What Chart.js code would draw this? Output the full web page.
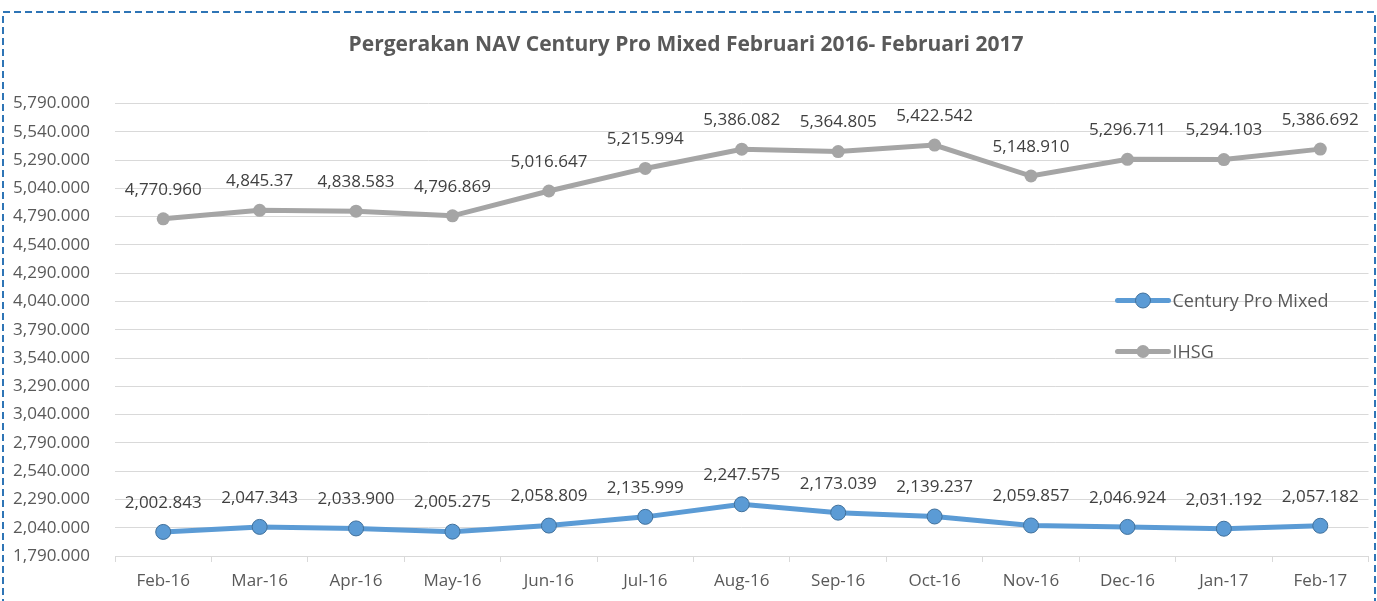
<!DOCTYPE html>
<html><head><meta charset="utf-8">
<script src="https://cdn.jsdelivr.net/npm/chart.js@4.4.0/dist/chart.umd.min.js"></script>
<style>
html,body{margin:0;padding:0;background:#fff;overflow:hidden}
#wrap{position:relative;width:1377px;height:601px}
canvas{position:absolute;left:0;top:0}
</style></head><body>
<div id="wrap"><canvas id="c" width="1377" height="601"></canvas></div>
<script>
const categories = ['Feb-16','Mar-16','Apr-16','May-16','Jun-16','Jul-16','Aug-16','Sep-16','Oct-16','Nov-16','Dec-16','Jan-17','Feb-17'];
const centuryValues = [2002.843, 2047.343, 2033.900, 2005.275, 2058.809, 2135.999, 2247.575, 2173.039, 2139.237, 2059.857, 2046.924, 2031.192, 2057.182];
const ihsgValues = [4770.960, 4845.37, 4838.583, 4796.869, 5016.647, 5215.994, 5386.082, 5364.805, 5422.542, 5148.910, 5296.711, 5294.103, 5386.692];
const centuryLabels = ['2,002.843','2,047.343','2,033.900','2,005.275','2,058.809','2,135.999','2,247.575','2,173.039','2,139.237','2,059.857','2,046.924','2,031.192','2,057.182'];
const ihsgLabels = ['4,770.960','4,845.37','4,838.583','4,796.869','5,016.647','5,215.994','5,386.082','5,364.805','5,422.542','5,148.910','5,296.711','5,294.103','5,386.692'];
const yTicks = [1790, 2040, 2290, 2540, 2790, 3040, 3290, 3540, 3790, 4040, 4290, 4540, 4790, 5040, 5290, 5540, 5790];
const seriesNames = ['Century Pro Mixed', 'IHSG'];
const titleText = 'Pergerakan NAV Century Pro Mixed Februari 2016- Februari 2017';

const FONT = "'Open Sans', sans-serif";
const allLabels = [centuryLabels, ihsgLabels];

const framePlugin = {
  id: 'frame',
  beforeDraw(chart) {
    const ctx = chart.ctx;
    ctx.save();
    ctx.fillStyle = '#fff';
    ctx.fillRect(0, 0, chart.width, chart.height);
    ctx.strokeStyle = '#2E75B6';
    ctx.lineWidth = 2;
    ctx.setLineDash([7, 4]);
    ctx.strokeRect(3, 12, chart.width - 5, chart.height + 40);
    ctx.restore();
  }
};

const dataLabelPlugin = {
  id: 'dataLabels',
  afterDatasetsDraw(chart) {
    const ctx = chart.ctx;
    ctx.save();
    ctx.font = "17px " + FONT;
    ctx.fillStyle = '#404040';
    ctx.textAlign = 'center';
    ctx.textBaseline = 'middle';
    chart.data.datasets.forEach((ds, i) => {
      const meta = chart.getDatasetMeta(i);
      meta.data.forEach((pt, j) => {
        ctx.fillText(allLabels[i][j], pt.x, pt.y - 29);
      });
    });
    ctx.restore();
  }
};

const legendPlugin = {
  id: 'customLegend',
  afterDraw(chart) {
    const ctx = chart.ctx;
    const ca = chart.chartArea;
    ctx.save();
    chart.data.datasets.forEach((ds, i) => {
      const y = ca.top + 197 + i * 51;
      const x0 = ca.right - 251, x1 = ca.right - 200;
      ctx.strokeStyle = ds.borderColor;
      ctx.lineWidth = ds.borderWidth;
      ctx.lineCap = 'round';
      ctx.beginPath(); ctx.moveTo(x0, y); ctx.lineTo(x1, y); ctx.stroke();
      ctx.beginPath();
      ctx.arc((x0 + x1) / 2, y, ds.pointRadius, 0, Math.PI * 2);
      ctx.fillStyle = ds.pointBackgroundColor;
      ctx.fill();
      if (ds.pointBorderWidth) { ctx.lineWidth = ds.pointBorderWidth; ctx.strokeStyle = ds.pointBorderColor; ctx.stroke(); }
      ctx.fillStyle = '#595959';
      ctx.font = "18px " + FONT;
      ctx.textAlign = 'left';
      ctx.textBaseline = 'middle';
      ctx.fillText(ds.label, x1 + 4, y + 1);
    });
    ctx.restore();
  }
};

new Chart(document.getElementById('c'), {
  type: 'line',
  data: {
    labels: categories,
    datasets: [
      {
        label: seriesNames[0], data: centuryValues,
        borderColor: '#5B9BD5', borderWidth: 5,
        pointRadius: 7.5, pointHoverRadius: 7.5,
        pointBackgroundColor: '#5B9BD5', pointBorderColor: '#41719C', pointBorderWidth: 1,
        tension: 0
      },
      {
        label: seriesNames[1], data: ihsgValues,
        borderColor: '#A5A5A5', borderWidth: 5,
        pointRadius: 6.5, pointHoverRadius: 6.5,
        pointBackgroundColor: '#A5A5A5', pointBorderColor: '#A5A5A5', pointBorderWidth: 0,
        tension: 0
      }
    ]
  },
  options: {
    responsive: false,
    animation: false,
    events: [],
    layout: { padding: { top: 0, left: 0, right: 5, bottom: 0.6 } },
    plugins: {
      legend: { display: false },
      tooltip: { enabled: false },
      title: {
        display: true, text: titleText, color: '#595959',
        font: { family: FONT, size: 21, weight: 'bold' },
        padding: { top: 32.9, bottom: 45.4 }
      }
    },
    scales: {
      x: {
        offset: true,
        grid: { offset: true, drawOnChartArea: false, drawTicks: true, tickLength: 6, color: '#D9D9D9' },
        border: { display: true, color: '#D9D9D9', width: 1 },
        ticks: { color: '#595959', font: { family: FONT, size: 17 }, padding: 9, maxRotation: 0, autoSkip: false }
      },
      y: {
        min: yTicks[0], max: yTicks[yTicks.length - 1],
        afterBuildTicks(scale) { scale.ticks = yTicks.map(v => ({ value: v })); },
        afterFit(scale) { scale.width = 115; },
        grid: { color: '#D9D9D9', drawTicks: false, lineWidth: 1 },
        border: { display: false },
        ticks: {
          color: '#595959', font: { family: FONT, size: 17 }, padding: 25,
          callback: v => Number(v).toLocaleString('en-US', { minimumFractionDigits: 3, maximumFractionDigits: 3 })
        }
      }
    }
  },
  plugins: [framePlugin, dataLabelPlugin, legendPlugin]
});
</script>
</body></html>
